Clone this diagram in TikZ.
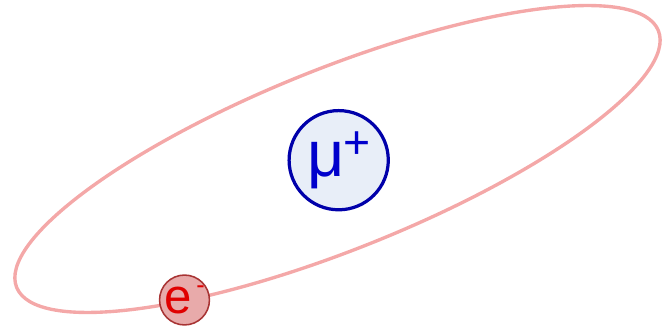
\documentclass[tikz,border=0pt]{standalone}
\usepackage{fontspec}
\setmainfont{Liberation Sans}
\definecolor{orbitred}{HTML}{F4A8A8}
\definecolor{muonfill}{HTML}{E8EEF8}
\definecolor{muonblue}{HTML}{0000AA}
\definecolor{muontext}{HTML}{0000CC}
\definecolor{elecfill}{HTML}{E8AAAA}
\definecolor{elecdraw}{HTML}{A83434}
\definecolor{electext}{HTML}{E00000}
\tikzset{
  orbit/.style={draw=orbitred,line width=2.4pt},
  muon/.style={circle,draw=muonblue,line width=2.3pt,fill=muonfill,minimum size=2.48cm,inner sep=0,
               text=muontext,font=\fontsize{46}{46}\selectfont},
  electron/.style={circle,draw=elecdraw,line width=1.1pt,fill=elecfill,minimum size=1.22cm,inner sep=0,
                   text=electext,font=\fontsize{35}{35}\selectfont},
}

\begin{document}
\begin{tikzpicture}
  \useasboundingbox (-8.4375,-4.2) rectangle (8.1625,3.975);
  % the electron's orbit round the muon
  \coordinate (C) at (0,0);
  \draw[orbit,rotate around={21.8:(C)}] (C) ellipse[x radius=8.64cm,y radius=2.265cm];
  \node[muon] (mu) at (0.03,-0.03) {μ\kern-0.02em\raisebox{0.27em}{\fontsize{33}{33}\selectfont +}};
  \node[electron] (e) at (-3.825,-3.525) {e\hspace{0.1em}\raisebox{0.42em}{\fontsize{18}{18}\selectfont -}};
\end{tikzpicture}
\end{document}
